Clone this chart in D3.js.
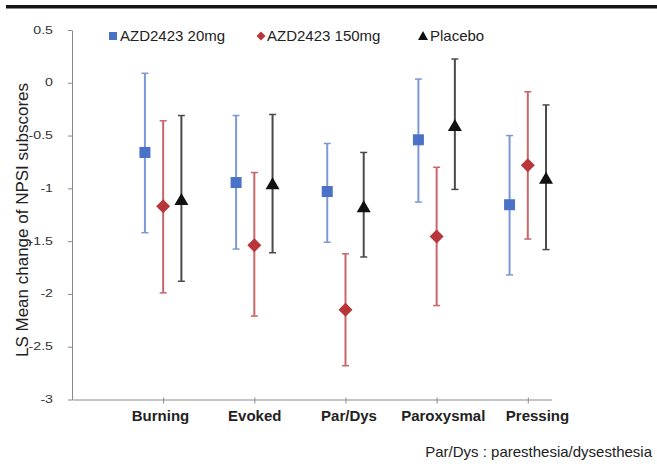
<!DOCTYPE html>
<html>
<head>
<meta charset="utf-8">
<script src="https://cdn.jsdelivr.net/npm/d3@7"></script>
<style>
  html, body { margin: 0; padding: 0; background: #fff; }
  svg { display: block; font-family: Arial, "Liberation Sans", sans-serif; }
</style>
</head>
<body>
<svg id="chart" width="657" height="466"></svg>
<script>
const categories = ["Burning", "Evoked", "Par/Dys", "Paroxysmal", "Pressing"];
const seriesNames = ["AZD2423 20mg", "AZD2423 150mg", "Placebo"];
// LS mean values
const mean20 = [-0.66, -0.945, -1.03, -0.54, -1.155];
const mean150 = [-1.17, -1.54, -2.15, -1.455, -0.78];
const meanPlacebo = [-1.11, -0.96, -1.18, -0.41, -0.91];
// upper limits
const upper20 = [0.09, -0.31, -0.575, 0.035, -0.50];
const upper150 = [-0.36, -0.85, -1.62, -0.80, -0.085];
const upperPlacebo = [-0.31, -0.30, -0.66, 0.225, -0.21];
// lower limits
const lower20 = [-1.42, -1.575, -1.51, -1.13, -1.82];
const lower150 = [-1.99, -2.21, -2.68, -2.11, -1.48];
const lowerPlacebo = [-1.88, -1.61, -1.65, -1.01, -1.58];
const yTicks = [0.5, 0, -0.5, -1, -1.5, -2, -2.5, -3];
const footnote = "Par/Dys : paresthesia/dysesthesia";
const yTitle = "LS Mean change of NPSI subscores";

const series = [
  { name: seriesNames[0], mean: mean20, up: upper20, lo: lower20, marker: "square",
    fill: "#4a72c6", line: "#7d98d6", offset: -0.2 },
  { name: seriesNames[1], mean: mean150, up: upper150, lo: lower150, marker: "diamond",
    fill: "#b8363a", line: "#c8666a", offset: 0 },
  { name: seriesNames[2], mean: meanPlacebo, up: upperPlacebo, lo: lowerPlacebo, marker: "triangle",
    fill: "#111111", line: "#4a4a4a", offset: 0.2 }
];

const svg = d3.select("#chart");

// top rule
svg.append("rect").attr("x", 6).attr("y", 5).attr("width", 651).attr("height", 3.5).attr("fill", "#151515");

const y = d3.scaleLinear().domain([-3, 0.5]).range([399.5, 30]);
const x = d3.scaleLinear().domain([-1, 4.26]).range([72, 551.5]);
const xLabel = d3.scaleLinear().domain([0, categories.length - 1]).range([160.5, 537.5]);

// y axis
const yAxis = svg.append("g").attr("transform", "translate(72,0)")
  .call(d3.axisLeft(y).tickValues(yTicks).tickFormat("").tickSizeInner(4).tickSizeOuter(0));
yAxis.select(".domain").attr("stroke", "#8a8a8a");
yAxis.selectAll(".tick line").attr("stroke", "#8a8a8a");
svg.append("g").selectAll("text").data(yTicks).join("text")
  .attr("transform", d => `translate(53,${y(d) + 3.5}) scale(1.35,1)`)
  .attr("text-anchor", "end").attr("font-size", 10.5).attr("fill", "#333")
  .text(d => String(d));

// x axis
const xAxis = svg.append("g").attr("transform", `translate(0,${y(-3)})`)
  .call(d3.axisBottom(x).tickValues(d3.range(categories.length)).tickFormat("").tickSizeInner(4).tickSizeOuter(0));
xAxis.select(".domain").attr("stroke", "#8a8a8a");
xAxis.selectAll(".tick line").attr("stroke", "#8a8a8a").attr("y1", -2);
svg.append("g").selectAll("text").data(categories).join("text")
  .attr("x", (d, i) => xLabel(i)).attr("y", 421)
  .attr("text-anchor", "middle").attr("font-size", 15).attr("font-weight", "bold").attr("fill", "#222")
  .text(d => d);

// y title
svg.append("text")
  .attr("transform", `translate(28,220) rotate(-90)`)
  .attr("text-anchor", "middle").attr("font-size", 17).attr("fill", "#222")
  .text(yTitle);

// error bars and markers
const capHalf = 3.5;
series.forEach(s => {
  const g = svg.append("g");
  categories.forEach((c, i) => {
    const cx = x(i + s.offset);
    g.append("line").attr("x1", cx).attr("x2", cx).attr("y1", y(s.up[i])).attr("y2", y(s.lo[i]))
      .attr("stroke", s.line).attr("stroke-width", 2);
    [s.up[i], s.lo[i]].forEach(v => {
      g.append("line").attr("x1", cx - capHalf).attr("x2", cx + capHalf).attr("y1", y(v)).attr("y2", y(v))
        .attr("stroke", s.line).attr("stroke-width", 1.5);
    });
    const cy = y(s.mean[i]);
    if (s.marker === "square") {
      g.append("rect").attr("x", cx - 5.5).attr("y", cy - 5.5).attr("width", 11).attr("height", 11).attr("fill", s.fill);
    } else if (s.marker === "diamond") {
      g.append("path").attr("d", `M${cx},${cy - 7}L${cx + 7},${cy}L${cx},${cy + 7}L${cx - 7},${cy}Z`).attr("fill", s.fill);
    } else {
      g.append("path").attr("d", `M${cx},${cy - 7}L${cx + 7},${cy + 5}L${cx - 7},${cy + 5}Z`).attr("fill", s.fill);
    }
  });
});

// legend
const legendMarkX = [113, 261, 423];
const legendTextX = [120, 267, 430];
series.forEach((s, k) => {
  const lx = legendMarkX[k], ly = 36;
  const g = svg.append("g");
  if (s.marker === "square") {
    g.append("rect").attr("x", lx - 4).attr("y", ly - 4).attr("width", 8).attr("height", 8).attr("fill", s.fill);
  } else if (s.marker === "diamond") {
    g.append("path").attr("d", `M${lx},${ly - 4.5}L${lx + 4.5},${ly}L${lx},${ly + 4.5}L${lx - 4.5},${ly}Z`).attr("fill", s.fill);
  } else {
    g.append("path").attr("d", `M${lx},${ly - 5}L${lx + 5},${ly + 4}L${lx - 5},${ly + 4}Z`).attr("fill", s.fill);
  }
  g.append("text").attr("x", legendTextX[k]).attr("y", 41).attr("font-size", 15).attr("fill", "#222").text(s.name);
});

// footnote
svg.append("text").attr("x", 652).attr("y", 457).attr("text-anchor", "end")
  .attr("font-size", 15).attr("fill", "#222").text(footnote);
</script>
</body>
</html>
